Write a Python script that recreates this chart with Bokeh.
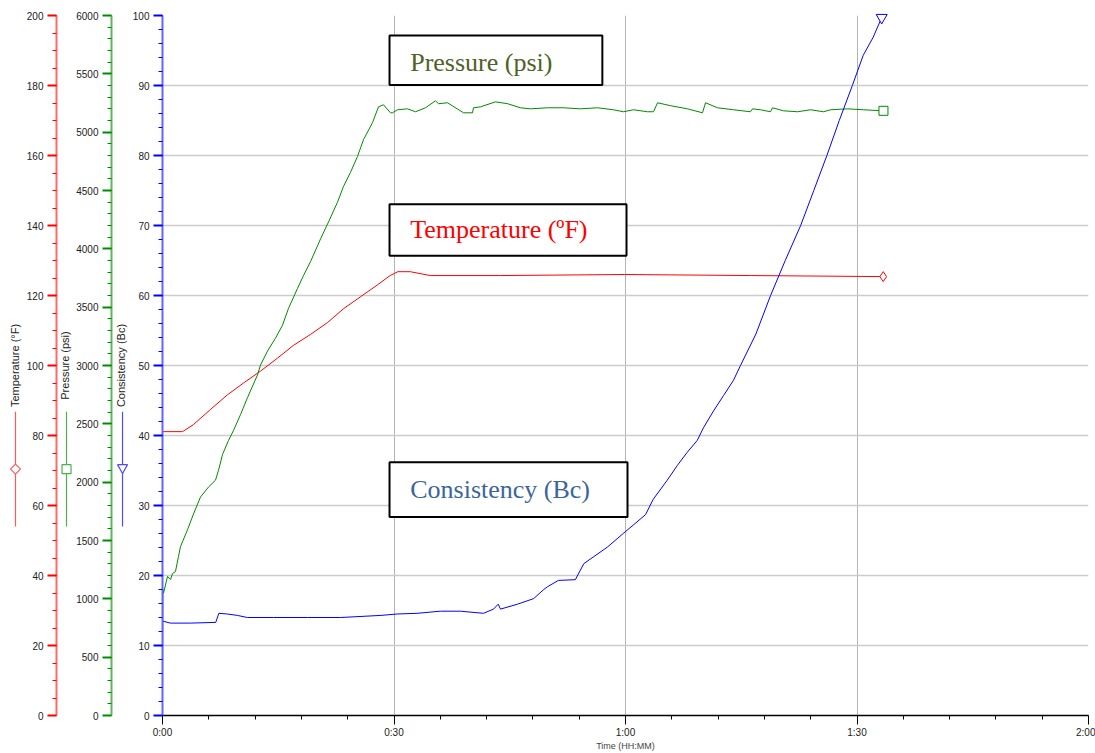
from bokeh.plotting import figure
from bokeh.models import Range1d, LinearAxis, FixedTicker, BoxAnnotation, Label
from bokeh.embed import file_html
from bokeh.resources import INLINE

# ---- data (time in minutes from start) ----
temp_time = [0.0, 2.6, 4.0, 6.2, 8.4, 10.5, 12.7, 14.9, 17.0, 19.2, 21.4, 23.5,
             25.7, 27.9, 29.5, 30.5, 32.1, 34.7, 43.8, 59.9, 76.2, 93.4]
temp_f = [81.1, 81.1, 83.1, 87.4, 91.6, 95.0, 98.4, 102.1, 105.8, 108.9, 112.3, 116.3,
          119.7, 123.1, 125.7, 126.8, 126.8, 125.7, 125.7, 126.0, 125.7, 125.4]

pres_time = [0.0, 0.05, 0.13, 0.65, 1.04, 1.30, 1.68, 2.07, 2.33, 3.24, 4.02, 4.92,
             5.96, 6.87, 7.26, 7.78, 8.55, 9.20, 10.11, 11.01, 12.31, 12.70, 13.61,
             14.64, 15.55, 16.33, 17.49, 18.27, 19.18, 20.48, 21.51, 22.68, 23.46,
             24.36, 25.27, 26.05, 27.21, 27.99, 28.64, 29.55, 29.81, 30.45, 31.75,
             32.79, 34.08, 35.38, 35.77, 36.93, 39.01, 40.17, 40.30, 41.21, 43.15,
             44.71, 46.39, 47.69, 49.89, 51.97, 54.17, 56.37, 58.44, 59.74, 61.04,
             62.85, 63.63, 64.15, 65.83, 68.04, 69.98, 70.37, 71.93, 74.00, 76.20,
             76.46, 77.49, 78.79, 79.05, 80.48, 82.29, 83.98, 85.66, 86.57, 88.77,
             90.84, 93.43]
pres_psi = [153, 1081, 1047, 1192, 1166, 1217, 1234, 1362, 1447, 1592, 1728, 1872,
            1958, 2017, 2102, 2238, 2357, 2443, 2579, 2724, 2919, 3004, 3124,
            3234, 3345, 3490, 3660, 3770, 3890, 4085, 4230, 4400, 4536,
            4655, 4792, 4936, 5081, 5217, 5235, 5166, 5166, 5192, 5200,
            5175, 5209, 5269, 5244, 5252, 5166, 5166, 5209, 5217, 5260,
            5244, 5209, 5200, 5209, 5209, 5200, 5209, 5192, 5175, 5192,
            5175, 5175, 5252, 5227, 5200, 5166, 5252, 5209, 5192, 5175,
            5200, 5192, 5175, 5209, 5183, 5175, 5192, 5175, 5192, 5200,
            5192, 5183]

cons_time = [0.0, 1.0, 3.6, 6.9, 7.3, 8.4, 9.7, 11.0, 14.4, 18.8, 23.1, 28.3,
             30.4, 33.0, 36.0, 38.6, 41.6, 42.9, 43.5, 43.8, 46.0, 48.1, 49.4,
             49.9, 51.3, 53.5, 54.6, 55.9, 57.7, 59.7, 61.0, 62.6, 63.6, 65.4,
             66.7, 68.0, 69.3, 70.1, 71.4, 72.7, 74.0, 74.9, 76.9, 78.8, 80.7,
             82.7, 84.4, 86.1, 87.7, 89.4, 90.8, 92.1, 93.2]
cons_bc = [13.5, 13.2, 13.2, 13.3, 14.6, 14.5, 14.3, 14.0, 14.0, 14.0, 14.0, 14.3,
           14.5, 14.6, 14.9, 14.9, 14.6, 15.2, 15.9, 15.2, 15.9, 16.7, 18.0,
           18.4, 19.3, 19.4, 21.7, 22.7, 24.1, 26.0, 27.2, 28.7, 30.9, 33.6,
           35.7, 37.6, 39.3, 41.1, 43.5, 45.7, 47.9, 50.0, 54.5, 60.0, 65.0,
           70.0, 75.0, 80.0, 85.0, 90.0, 94.3, 96.9, 99.7]

time_ticks = [0, 30, 60, 90, 120]
time_labels = ["0:00", "0:30", "1:00", "1:30", "2:00"]

RED, GREEN, BLUE = "#ff0000", "#008a00", "#0000ff"
TICK_FONT = "Liberation Sans"

p = figure(width=1095, height=753, output_backend="svg", toolbar_location=None,
           x_range=Range1d(0, 120), y_range=Range1d(0, 100),
           min_border_left=162, min_border_right=7, min_border_top=15,
           min_border_bottom=0)
p.outline_line_color = None
p.background_fill_color = "white"
p.extra_y_ranges = {"pres": Range1d(0, 6000), "temp": Range1d(0, 200)}


def style_axis(ax, line_col, tick_col, label, major, minor, standoff):
    ax.ticker = FixedTicker(ticks=major, minor_ticks=minor)
    ax.axis_line_color = line_col
    ax.axis_line_width = 2
    ax.major_tick_line_color = tick_col
    ax.major_tick_line_width = 2
    ax.minor_tick_line_color = tick_col
    ax.major_tick_out = 9
    ax.major_tick_in = 0
    ax.minor_tick_out = 4
    ax.minor_tick_in = 0
    ax.major_label_standoff = 4
    ax.major_label_text_font = TICK_FONT
    ax.major_label_text_font_size = "10px"
    ax.major_label_text_color = "#222222"
    ax.axis_label = label
    ax.axis_label_text_font = TICK_FONT
    ax.axis_label_text_font_size = "11px"
    ax.axis_label_text_font_style = "normal"
    ax.axis_label_text_color = "#222222"
    ax.axis_label_standoff = standoff


cons_axis = p.yaxis[0]
style_axis(cons_axis, "#6464ff", BLUE, "Consistency (Bc)",
           list(range(0, 101, 10)), list(range(0, 101, 2)), 3)

pres_axis = LinearAxis(y_range_name="pres")
style_axis(pres_axis, "#5cb85c", GREEN, "Pressure (psi)",
           list(range(0, 6001, 500)), list(range(0, 6001, 100)), 2)
p.add_layout(pres_axis, "left")

temp_axis = LinearAxis(y_range_name="temp")
style_axis(temp_axis, "#ff6b6b", RED, "Temperature (°F)",
           list(range(0, 201, 20)), list(range(0, 201, 5)), 3)
p.add_layout(temp_axis, "left")

xa = p.xaxis[0]
xa.ticker = FixedTicker(ticks=time_ticks, minor_ticks=list(range(0, 121, 6)))
xa.major_label_overrides = dict(zip(time_ticks, time_labels))
xa.axis_line_color = "black"
xa.axis_line_width = 1.5
xa.major_tick_line_color = "black"
xa.minor_tick_line_color = "black"
xa.major_tick_out = 9
xa.major_tick_in = 0
xa.minor_tick_out = 4
xa.minor_tick_in = 0
xa.major_label_standoff = 2
xa.major_label_text_font = TICK_FONT
xa.major_label_text_font_size = "10px"
xa.major_label_text_color = "#222222"
xa.axis_label = "Time (HH:MM)"
xa.axis_label_text_font = TICK_FONT
xa.axis_label_text_font_size = "9px"
xa.axis_label_text_font_style = "normal"
xa.axis_label_standoff = 0

p.xgrid.ticker = FixedTicker(ticks=time_ticks)
p.xgrid.grid_line_color = "#b4b4b4"
p.xgrid.grid_line_width = 1
p.ygrid.ticker = FixedTicker(ticks=list(range(0, 101, 10)))
p.ygrid.grid_line_color = "#cccccc"
p.ygrid.grid_line_width = 1.5

# ---- curves ----
p.line(temp_time, temp_f, color=RED, line_width=1, y_range_name="temp")
p.line(pres_time, pres_psi, color=GREEN, line_width=1, y_range_name="pres")
p.line(cons_time, cons_bc, color=BLUE, line_width=1)

end_marks = [
    p.scatter([temp_time[-1]], [temp_f[-1]], marker="diamond", size=10,
              line_color=RED, fill_color="white", y_range_name="temp"),
    p.scatter([pres_time[-1]], [pres_psi[-1]], marker="square", size=9,
              line_color=GREEN, fill_color="white", y_range_name="pres"),
    p.scatter([cons_time[-1]], [cons_bc[-1]], marker="inverted_triangle", size=11,
              line_color=BLUE, fill_color="white"),
]
for r in end_marks:
    r.level = "overlay"

# ---- series keys beside the axis titles (drawn as small outlines) ----
PX_X = 120 / 926.0   # minutes per pixel
PX_Y = 100 / 705.0   # Bc per pixel
key_x = {"temp": -19.05, "pres": -12.44, "cons": -5.18}
key_y = 35.2
shapes = {
    "diamond": [(-5, 0), (0, 5), (5, 0), (0, -5)],
    "square": [(-4.5, -4.5), (-4.5, 4.5), (4.5, 4.5), (4.5, -4.5)],
    "inverted_triangle": [(-5, 4.5), (5, 4.5), (0, -4.5)],
}
for name, col, mk in [("temp", "#ff5a5a", "diamond"), ("pres", "#4caf50", "square"),
                      ("cons", "#4b4bff", "inverted_triangle")]:
    cx = key_x[name]
    ln = p.line([cx, cx], [43.4, 27.0], color=col, line_width=1.2)
    ln.level = "overlay"
    xs = [cx + dx * PX_X for dx, dy in shapes[mk]]
    ys = [key_y + dy * PX_Y for dx, dy in shapes[mk]]
    pt = p.patch(xs, ys, fill_color="white", line_color=col, line_width=1.2)
    pt.level = "overlay"

# ---- titled boxes ----
boxes = [
    ("Pressure (psi)", "#4f6228", 29.42, 57.0, 97.16, 90.07, 93.3),
    ("Temperature (ºF)", "#ff0000", 29.42, 60.13, 73.05, 65.67, 69.4),
    ("Consistency (Bc)", "#3b659a", 29.42, 60.26, 36.17, 28.37, 32.3),
]
for text, col, l, r, t, b, yc in boxes:
    p.add_layout(BoxAnnotation(left=l, right=r, top=t, bottom=b,
                               fill_color="white", fill_alpha=1,
                               line_color="black", line_alpha=1, line_width=2))
    p.add_layout(Label(x=32.1, y=yc, text=text, text_color=col,
                       text_font="Liberation Serif", text_font_size="26px",
                       text_baseline="middle", text_align="left"))

open("out.html", "w").write(file_html(p, INLINE))
